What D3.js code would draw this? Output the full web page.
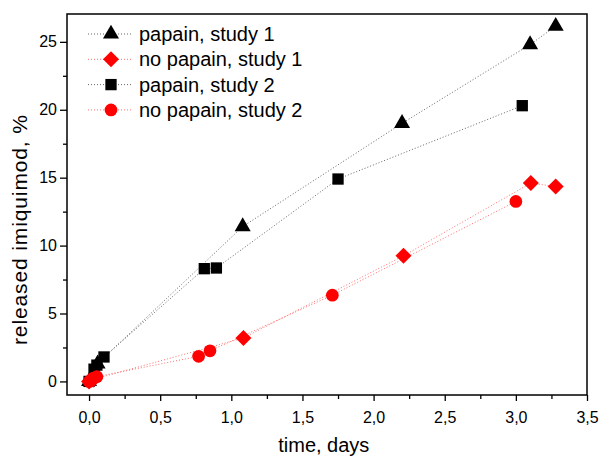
<!DOCTYPE html>
<html>
<head>
<meta charset="utf-8">
<script src="https://cdn.jsdelivr.net/npm/d3@7"></script>
<style>
  body { margin: 0; background: #fff; }
  svg { display: block; font-family: "Liberation Sans", Arial, sans-serif; }
</style>
</head>
<body>
<svg id="chart" width="601" height="457"></svg>
<script>
// Data (time in days, released imiquimod in %)
var papain1T = [0, 0.06, 1.08, 2.2, 3.1, 3.28];
var papain1V = [0, 1.3, 11.4, 19.0, 24.8, 26.15];

var noPapain1T = [0, 0.03, 1.085, 2.21, 3.105, 3.28];
var noPapain1V = [0, 0.15, 3.2, 9.25, 14.6, 14.35];

var papain2T = [0, 0.035, 0.055, 0.105, 0.81, 0.895, 1.75, 3.045];
var papain2V = [0, 0.9, 1.2, 1.8, 8.3, 8.35, 14.9, 20.3];

var noPapain2T = [0, 0.03, 0.055, 0.77, 0.85, 1.71, 3.0];
var noPapain2V = [0, 0.25, 0.35, 1.85, 2.25, 6.35, 13.25];

var seriesNames = ["papain, study 1", "no papain, study 1", "papain, study 2", "no papain, study 2"];

var xTicks = [0, 0.5, 1, 1.5, 2, 2.5, 3, 3.5];
var yTicks = [0, 5, 10, 15, 20, 25];

// Layout
var margin = { top: 14, right: 14, bottom: 62, left: 67 },
    width = 601 - margin.left - margin.right,
    height = 457 - margin.top - margin.bottom;

var svg = d3.select("#chart");
var g = svg.append("g")
    .attr("transform", "translate(" + margin.left + "," + margin.top + ")");

var x = d3.scaleLinear().domain([-0.155, 3.5]).range([0, width]);
var y = d3.scaleLinear().domain([-1, 27.05]).range([height, 0]);

var fmt = function(d) { return d3.format(".1f")(d).replace(".", ","); };

// Axes with minor ticks
var xMinor = d3.range(-0.0, 3.51, 0.25).filter(d => xTicks.indexOf(d) < 0);
var yMinor = d3.range(2.5, 27, 5);

g.append("g")
    .attr("transform", "translate(0," + height + ")")
    .call(d3.axisBottom(x).tickValues(xMinor).tickSize(4).tickFormat(""))
    .call(a => a.select(".domain").remove());
g.append("g")
    .attr("class", "x-axis")
    .attr("transform", "translate(0," + height + ")")
    .call(d3.axisBottom(x).tickValues(xTicks).tickSize(6).tickPadding(11).tickFormat(fmt))
    .call(a => a.select(".domain").remove());

g.append("g")
    .call(d3.axisLeft(y).tickValues(yMinor).tickSize(4).tickFormat(""))
    .call(a => a.select(".domain").remove());
g.append("g")
    .attr("class", "y-axis")
    .call(d3.axisLeft(y).tickValues(yTicks).tickSize(7).tickPadding(3))
    .call(a => a.select(".domain").remove());

g.selectAll(".tick line").attr("stroke", "#000").attr("stroke-width", 1.3);
g.selectAll(".tick text")
    .attr("fill", "#000")
    .style("font-size", "16px")
    .style("font-family", "'Liberation Sans', Arial, sans-serif");

// Frame
g.append("rect")
    .attr("width", width).attr("height", height)
    .attr("fill", "none").attr("stroke", "#000").attr("stroke-width", 1.5);

// Axis titles
svg.append("text")
    .attr("x", margin.left + x(1.65)).attr("y", 452)
    .attr("text-anchor", "middle")
    .style("font-size", "20px")
    .text("time, days");
svg.append("text")
    .attr("transform", "translate(27,230) rotate(-90)")
    .attr("text-anchor", "middle")
    .attr("textLength", 230)
    .attr("lengthAdjust", "spacing")
    .style("font-size", "21px")
    .text("released imiquimod, %");

// Marker shapes
var triangle = d3.symbol().type(d3.symbolTriangle).size(111);
var square = d3.symbol().type(d3.symbolSquare).size(128);
var diamond = d3.symbol().type(d3.symbolSquare).size(128);
var circle = d3.symbol().type(d3.symbolCircle).size(127);

var series = [
  { name: seriesNames[0], t: papain1T, v: papain1V, color: "#000", line: "#666", sym: triangle, rot: 0 },
  { name: seriesNames[1], t: noPapain1T, v: noPapain1V, color: "#ff0000", line: "#ff7070", sym: diamond, rot: 45 },
  { name: seriesNames[2], t: papain2T, v: papain2V, color: "#000", line: "#666", sym: square, rot: 0 },
  { name: seriesNames[3], t: noPapain2T, v: noPapain2V, color: "#ff0000", line: "#ff7070", sym: circle, rot: 0 }
];

var line = d3.line()
    .x(d => x(d[0]))
    .y(d => y(d[1]));

// Lines first
series.forEach(function(s) {
  var pts = s.t.map((t, i) => [t, s.v[i]]);
  g.append("path")
      .datum(pts)
      .attr("d", line)
      .attr("fill", "none")
      .attr("stroke", s.line)
      .attr("stroke-width", 1)
      .attr("stroke-dasharray", "1,2");
});

// Markers: black series below red ones
[0, 2, 1, 3].forEach(function(k) {
  var s = series[k];
  var pts = s.t.map((t, i) => [t, s.v[i]]);
  g.append("g").selectAll("path")
      .data(pts)
      .enter().append("path")
      .attr("d", s.sym())
      .attr("transform", d => "translate(" + x(d[0]) + "," + y(d[1]) + ") rotate(" + s.rot + ")")
      .attr("fill", s.color);
});

// Legend
var legend = svg.append("g").attr("transform", "translate(88,34)");
series.forEach(function(s, i) {
  var row = legend.append("g").attr("transform", "translate(0," + (i * 25.3) + ")");
  row.append("line")
      .attr("x1", 0).attr("x2", 45)
      .attr("stroke", s.line).attr("stroke-width", 1)
      .attr("stroke-dasharray", "1,2");
  row.append("path")
      .attr("d", s.sym())
      .attr("transform", "translate(23,0) rotate(" + s.rot + ")")
      .attr("fill", s.color);
  row.append("text")
      .attr("x", 51).attr("y", 7)
      .style("font-size", "20px")
      .text(s.name);
});
</script>
</body>
</html>
